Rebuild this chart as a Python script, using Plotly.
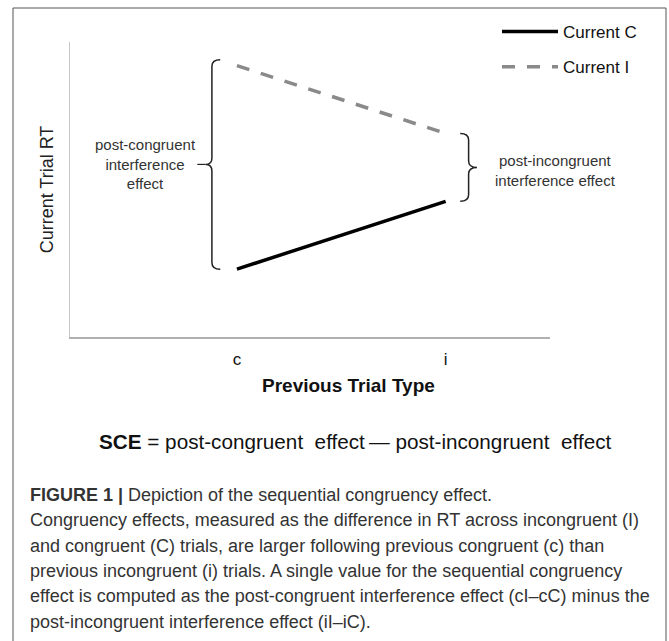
import plotly.graph_objects as go

# values (arbitrary RT units)
prev_types = ["c", "i"]
current_c_rt = [23, 46]
current_i_rt = [92, 69]
series_names = ["Current C", "Current I"]

left_label = "post-congruent<br>interference<br>effect"
right_label = "post-incongruent<br>interference effect"
x_title = "Previous Trial Type"
y_title = "Current Trial RT"
sce_text = "<b>SCE</b> = post-congruent  effect\u2009\u2014 post-incongruent  effect"
caption_lines = [
    "<b>FIGURE 1 |</b> Depiction of the sequential congruency effect.",
    "Congruency effects, measured as the difference in RT across incongruent (I)",
    "and congruent (C) trials, are larger following previous congruent (c) than",
    "previous incongruent (i) trials. A single value for the sequential congruency",
    "effect is computed as the post-congruent interference effect (cI\u2013cC) minus the",
    "post-incongruent interference effect (iI\u2013iC).",
]

W, H = 669, 641
L, R, T, B = 70, 550, 42, 337  # plot area in pixels
FONT = "Liberation Sans, Arial, sans-serif"
xs = list(range(len(prev_types)))


def paper_x(px):
    return (px - L) / (R - L)


def paper_y(py):
    return (B - py) / (B - T)


def brace(x, y0, y1, tip, curl, r):
    ym = (y0 + y1) / 2
    return (f"M {x + curl},{y1} Q {x},{y1} {x},{y1 - r} L {x},{ym + r} "
            f"Q {x},{ym} {x - tip},{ym} Q {x},{ym} {x},{ym - r} "
            f"L {x},{y0 + r} Q {x},{y0} {x + curl},{y0}")


fig = go.Figure()
fig.add_trace(go.Scatter(
    x=xs, y=current_c_rt, mode="lines", name=series_names[0],
    line=dict(color="black", width=3.5), legendgroup="a"
))
fig.add_trace(go.Scatter(
    x=xs, y=current_i_rt, mode="lines", name=series_names[1],
    line=dict(color="#8a8a8a", width=3.5, dash="13px,12px"), legendgroup="b"
))

left_mid = (current_c_rt[0] + current_i_rt[0] + 2) / 2
shapes = [
    dict(type="path", xref="x", yref="y",
         path=brace(-0.12, current_c_rt[0], current_i_rt[0] + 2, 0.03, 0.04, 2.2),
         line=dict(color="#222", width=1.5)),
    dict(type="line", xref="x", yref="y", x0=-0.19, x1=-0.15, y0=left_mid, y1=left_mid,
         line=dict(color="#222", width=1.2)),
    dict(type="path", xref="x", yref="y",
         path=brace(1.11, current_c_rt[1], current_i_rt[1], -0.04, -0.04, 2.2),
         line=dict(color="#222", width=1.5)),
    # figure frame
    dict(type="rect", xref="paper", yref="paper",
         x0=paper_x(13), x1=paper_x(666), y0=paper_y(660), y1=paper_y(8),
         line=dict(color="#555", width=1), layer="below"),
]

annotations = [
    dict(x=-0.44, y=left_mid, xref="x", yref="y", xanchor="center", yanchor="middle",
         text=left_label, showarrow=False, font=dict(size=15, color="#333")),
    dict(x=paper_x(555), y=paper_y(170), xref="paper", yref="paper",
         xanchor="center", yanchor="middle",
         text=right_label, showarrow=False, font=dict(size=15, color="#333")),
    dict(x=paper_x(348), y=paper_y(385), xref="paper", yref="paper",
         xanchor="center", yanchor="middle",
         text=f"<b>{x_title}</b>", showarrow=False, font=dict(size=19, color="#111")),
    dict(x=paper_x(355), y=paper_y(441), xref="paper", yref="paper",
         xanchor="center", yanchor="middle",
         text=sce_text, showarrow=False, font=dict(size=20.7, color="#111")),
]
for i, line in enumerate(caption_lines):
    annotations.append(dict(
        x=paper_x(28), y=paper_y(495 + i * 25.3), xref="paper", yref="paper",
        xanchor="left", yanchor="middle", text=line, showarrow=False,
        font=dict(size=18, color="#333")
    ))

fig.update_layout(
    width=W, height=H,
    margin=dict(l=L, r=W - R, t=T, b=H - B, autoexpand=False),
    plot_bgcolor="white", paper_bgcolor="white",
    font=dict(family=FONT, color="#222"),
    shapes=shapes, annotations=annotations,
    showlegend=True,
    legend=dict(x=paper_x(497), y=paper_y(14), xanchor="left", yanchor="top",
                font=dict(size=17, color="#111"), tracegroupgap=10, itemwidth=56,
                bgcolor="rgba(0,0,0,0)"),
    xaxis=dict(range=[-0.8, 1.5], tickvals=xs, ticktext=prev_types, showgrid=False,
               zeroline=False, showline=True, linecolor="#b0b0b0", linewidth=1.5,
               ticks="", tickfont=dict(size=17, color="#111"), ticklabelstandoff=6),
    yaxis=dict(range=[0, 100], showgrid=False, zeroline=False, showline=True,
               linecolor="#c8c8c8", linewidth=1, showticklabels=False, ticks="",
               title=dict(text=y_title, font=dict(size=18, color="#222"), standoff=10)),
)

fig.write_html("out.html", config={"displayModeBar": False},
               post_script="document.body.style.margin='0';")
